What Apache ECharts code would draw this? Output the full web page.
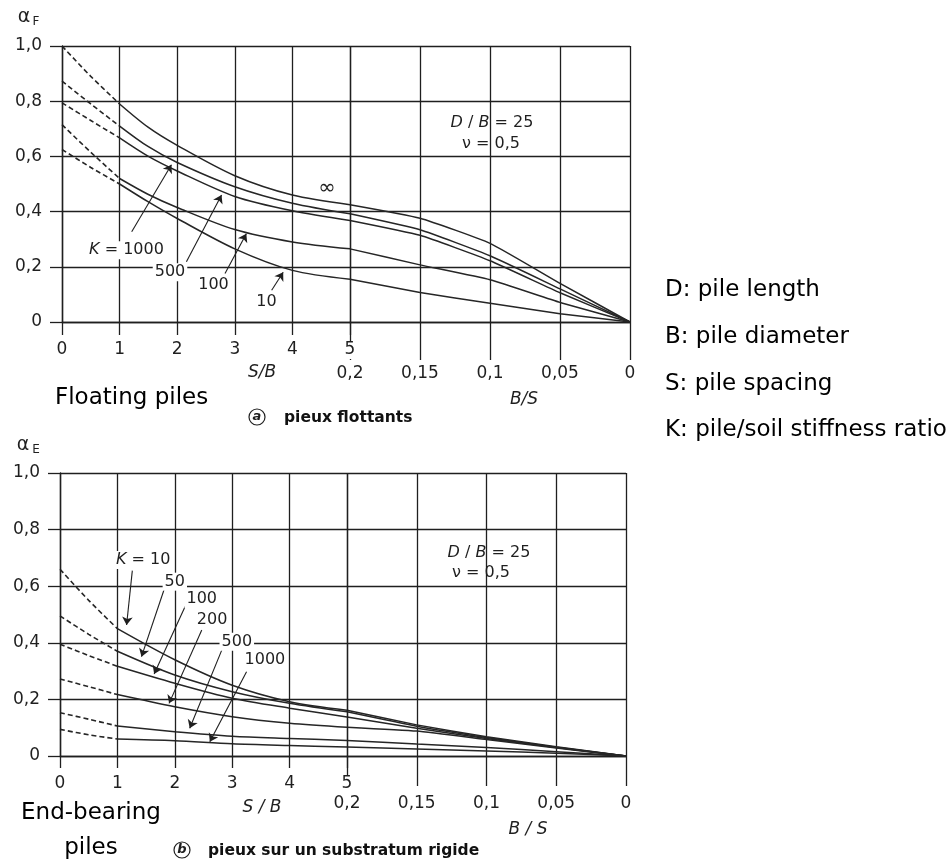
<!DOCTYPE html>
<html><head><meta charset="utf-8">
<script src="https://cdn.jsdelivr.net/npm/echarts@6/dist/echarts.min.js"></script>
<style>html,body{margin:0;padding:0;background:#fff}#c{width:949px;height:864px}</style>
</head><body><div id="c"></div>
<script>
// ---------- axes ----------
const yTickStep = 0.2;
const sbTickStep = 1;
const bsTickStep = 0.05;

// ---------- (a) floating piles : alpha_F ----------
const floatSB = [0, 0.5, 1, 1.5, 2, 3, 4, 5];          // S/B
const floatBS = [0.2, 0.15, 0.1, 0.05, 0];              // B/S
const floatInfSB  = [1.0, 0.89, 0.79, 0.705, 0.64, 0.53, 0.46, 0.425];
const floatInfBS  = [0.425, 0.376, 0.285, 0.14, 0];
const float1000SB = [0.873, 0.79, 0.71, 0.635, 0.578, 0.49, 0.43, 0.392];
const float1000BS = [0.392, 0.334, 0.24, 0.12, 0];
const float500SB  = [0.794, 0.73, 0.667, 0.6, 0.547, 0.455, 0.403, 0.368];
const float500BS  = [0.368, 0.314, 0.222, 0.106, 0];
const float100SB  = [0.715, 0.615, 0.52, 0.462, 0.415, 0.335, 0.29, 0.265];
const float100BS  = [0.265, 0.207, 0.153, 0.071, 0];
const float10SB   = [0.625, 0.56, 0.5, 0.435, 0.375, 0.265, 0.187, 0.155];
const float10BS   = [0.155, 0.107, 0.068, 0.03, 0];

// ---------- (b) end-bearing piles : alpha_E ----------
const endSB = [0, 0.5, 1, 2, 3, 4, 5];
const endBS = [0.2, 0.15, 0.1, 0.05, 0];
const end10SB   = [0.66, 0.55, 0.45, 0.34, 0.25, 0.192, 0.162];
const end10BS   = [0.162, 0.11, 0.068, 0.033, 0];
const end50SB   = [0.495, 0.43, 0.37, 0.286, 0.227, 0.186, 0.156];
const end50BS   = [0.156, 0.105, 0.065, 0.031, 0];
const end100SB  = [0.395, 0.355, 0.317, 0.257, 0.204, 0.169, 0.138];
const end100BS  = [0.138, 0.098, 0.062, 0.03, 0];
const end200SB  = [0.272, 0.245, 0.217, 0.174, 0.139, 0.116, 0.102];
const end200BS  = [0.102, 0.088, 0.058, 0.028, 0];
const end500SB  = [0.153, 0.13, 0.106, 0.086, 0.07, 0.062, 0.055];
const end500BS  = [0.055, 0.042, 0.03, 0.015, 0];
const end1000SB = [0.094, 0.075, 0.06, 0.054, 0.043, 0.037, 0.032];
const end1000BS = [0.032, 0.025, 0.018, 0.01, 0];

// ---------- annotations (S/B, value) ----------
const floatLabels = [['{i|K} = 1000', 1.12, 0.26], ['500', 1.875, 0.18], ['100', 2.63, 0.133], ['10', 3.55, 0.073], ['{inf|∞}', 4.6, 0.485]];
const floatArrows = [[1.21, 0.327, 1.9, 0.57], [2.16, 0.218, 2.77, 0.46], [2.83, 0.176, 3.2, 0.32], [3.64, 0.115, 3.84, 0.18]];
const endLabels = [['{i|K} = 10', 1.45, 0.693], ['50', 2.0, 0.616], ['100', 2.47, 0.554], ['200', 2.65, 0.48], ['500', 3.08, 0.404], ['1000', 3.57, 0.339]];
const endArrows = [[1.26, 0.655, 1.16, 0.463], [1.83, 0.598, 1.42, 0.351], [2.18, 0.528, 1.64, 0.29], [2.47, 0.445, 1.9, 0.186], [2.82, 0.375, 2.26, 0.098], [3.25, 0.298, 2.61, 0.05]];

// ---------- build ----------
const INK = '#1f1f1f';
const FONT = 'DejaVu Sans';
const curveColor = '#262626';

function fmtY(v) { return v === 0 ? '0' : v.toFixed(1).replace('.', ','); }
function fmtBS(v) { if (Math.abs(v) < 1e-9) return '0'; return String(Math.round(v * 100) / 100).replace('.', ','); }
function fmtSB(v) { return v === 5 ? '{w|5}' : String(v); }

const series = [];
function addCurve(gLeftX, gRightX, sbX, sbV, bsX, bsV) {
  const dash = [], solid = [], right = [];
  sbX.forEach((x, i) => { if (x <= 1) dash.push([x, sbV[i]]); if (x >= 1) solid.push([x, sbV[i]]); });
  bsX.forEach((x, i) => right.push([x, bsV[i]]));
  const base = { type: 'line', showSymbol: false, symbol: 'none', silent: true, smooth: 0.3, z: 3 };
  series.push(Object.assign({}, base, { xAxisIndex: gLeftX, yAxisIndex: gLeftX, data: dash, lineStyle: { color: curveColor, width: 1.6, type: [5, 3] } }));
  series.push(Object.assign({}, base, { xAxisIndex: gLeftX, yAxisIndex: gLeftX, data: solid, lineStyle: { color: curveColor, width: 1.5 } }));
  series.push(Object.assign({}, base, { xAxisIndex: gRightX, yAxisIndex: gRightX, data: right, smooth: 0.15, lineStyle: { color: curveColor, width: 1.5 } }));
}
addCurve(0, 1, floatSB, floatInfSB, floatBS, floatInfBS);
addCurve(0, 1, floatSB, float1000SB, floatBS, float1000BS);
addCurve(0, 1, floatSB, float500SB, floatBS, float500BS);
addCurve(0, 1, floatSB, float100SB, floatBS, float100BS);
addCurve(0, 1, floatSB, float10SB, floatBS, float10BS);
addCurve(2, 3, endSB, end10SB, endBS, end10BS);
addCurve(2, 3, endSB, end50SB, endBS, end50BS);
addCurve(2, 3, endSB, end100SB, endBS, end100BS);
addCurve(2, 3, endSB, end200SB, endBS, end200BS);
addCurve(2, 3, endSB, end500SB, endBS, end500BS);
addCurve(2, 3, endSB, end1000SB, endBS, end1000BS);

function addAnnot(axisIdx, labels, arrows) {
  series.push({
    type: 'line', xAxisIndex: axisIdx, yAxisIndex: axisIdx, data: [], silent: true, z: 5,
    markLine: {
      silent: true, animation: false, symbol: ['none', 'arrow'], symbolSize: 8,
      label: { show: false }, lineStyle: { color: INK, width: 1.1, type: 'solid' },
      emphasis: { disabled: true },
      data: arrows.map(a => [{ coord: [a[0], a[1]] }, { coord: [a[2], a[3]] }])
    },
    markPoint: {
      silent: true, animation: false, symbol: 'circle', symbolSize: 1,
      itemStyle: { color: 'rgba(0,0,0,0)' },
      label: {
        show: true, position: 'inside', color: INK, fontFamily: FONT, fontSize: 16,
        backgroundColor: '#fff', padding: [1, 2],
        rich: {
          i: { fontStyle: 'italic', fontFamily: FONT, fontSize: 16, color: INK },
          inf: { fontFamily: FONT, fontSize: 21, color: INK }
        }
      },
      data: labels.map(l => ({ coord: [l[1], l[2]], label: { formatter: l[0], backgroundColor: l[0].indexOf('inf') >= 0 ? 'rgba(0,0,0,0)' : '#fff' } }))
    }
  });
}
addAnnot(0, floatLabels, floatArrows);
addAnnot(2, endLabels, endArrows);

const gridLine = { show: true, lineStyle: { color: INK, width: 1.3 } };
const axisLine = { show: true, lineStyle: { color: INK, width: 1.4 } };
function sbAxis(grid, tickLen) {
  return { type: 'value', gridIndex: grid, min: 0, max: 5, interval: sbTickStep, z: 4,
    axisLine: axisLine, splitLine: gridLine,
    axisTick: { show: true, inside: false, length: tickLen, lineStyle: { color: INK, width: 1.3 } },
    axisLabel: { margin: 19, color: INK, fontFamily: FONT, fontSize: 17, formatter: fmtSB,
      rich: { w: { backgroundColor: '#fff', padding: [0, 4, 1, 4], fontFamily: FONT, fontSize: 17, color: INK } } } };
}
function bsAxis(grid, tickLen, margin) {
  return { type: 'value', gridIndex: grid, min: 0, max: 0.2, interval: bsTickStep, inverse: true, z: 1,
    axisLine: axisLine, splitLine: gridLine,
    axisTick: { show: true, inside: false, length: tickLen, lineStyle: { color: INK, width: 1.3 } },
    axisLabel: { margin: margin, color: INK, fontFamily: FONT, fontSize: 17, formatter: fmtBS } };
}
function yLeft(grid) {
  return { type: 'value', gridIndex: grid, min: 0, max: 1, interval: yTickStep,
    axisLine: axisLine, splitLine: gridLine,
    axisTick: { show: true, inside: false, length: 12, lineStyle: { color: INK, width: 1.3 } },
    axisLabel: { margin: 20, color: INK, fontFamily: FONT, fontSize: 17, formatter: fmtY } };
}
function yRight(grid) {
  return { type: 'value', gridIndex: grid, min: 0, max: 1, interval: yTickStep,
    axisLine: { show: false }, axisTick: { show: false }, axisLabel: { show: false }, splitLine: gridLine };
}

function T(x, y, text, font, align, fill) {
  return { type: 'text', x: x, y: y, silent: true, z: 10,
    style: { text: text, font: font, fill: fill || INK, align: align || 'center', verticalAlign: 'middle' } };
}
function RT(x, y, text, size) {
  return { type: 'text', x: x, y: y, silent: true, z: 10,
    style: { text: text, font: size + 'px ' + FONT, fill: INK, align: 'center', verticalAlign: 'middle',
      rich: { i: { fontStyle: 'italic', fontSize: size, fontFamily: FONT, fill: INK } } } };
}

const graphic = [
  // y axis names
  T(24, 17, 'α', '19px ' + FONT),
  T(36, 22, 'F', '12px ' + FONT),
  T(23, 445, 'α', '19px ' + FONT),
  T(36, 450, 'E', '12px ' + FONT),
  // parameter boxes
  RT(492, 123, '{i|D} / {i|B} = 25', 16),
  RT(491, 144, 'ν = 0,5', 16),
  RT(489, 553, '{i|D} / {i|B} = 25', 16),
  RT(481, 573, 'ν = 0,5', 16),
  // axis titles
  T(262, 373, 'S/B', 'italic 17px ' + FONT),
  T(524, 400, 'B/S', 'italic 17px ' + FONT),
  T(262, 808, 'S / B', 'italic 17px ' + FONT),
  T(528, 830, 'B / S', 'italic 17px ' + FONT),
  // captions
  T(55, 398, 'Floating piles', '23px ' + FONT, 'left', '#000'),
  { type: 'circle', shape: { cx: 257, cy: 417, r: 8 }, style: { fill: 'none', stroke: INK, lineWidth: 1.2 }, silent: true },
  T(257, 417, 'a', 'italic bold 13px ' + FONT),
  T(284, 418, 'pieux flottants', 'bold 15.5px ' + FONT, 'left', '#111'),
  T(91, 813, 'End-bearing', '23px ' + FONT, 'center', '#000'),
  T(91, 848, 'piles', '23px ' + FONT, 'center', '#000'),
  { type: 'circle', shape: { cx: 182, cy: 850, r: 8 }, style: { fill: 'none', stroke: INK, lineWidth: 1.2 }, silent: true },
  T(182, 850, 'b', 'italic bold 13px ' + FONT),
  T(208, 851, 'pieux sur un substratum rigide', 'bold 15.5px ' + FONT, 'left', '#111'),
  // legend of symbols
  T(665, 290, 'D: pile length', '23px ' + FONT, 'left', '#000'),
  T(665, 337, 'B: pile diameter', '23px ' + FONT, 'left', '#000'),
  T(665, 384, 'S: pile spacing', '23px ' + FONT, 'left', '#000'),
  T(665, 430, 'K: pile/soil stiffness ratio', '23px ' + FONT, 'left', '#000')
];

const chart = echarts.init(document.getElementById('c'), null, { renderer: 'canvas' });
chart.setOption({
  backgroundColor: '#fff',
  animation: false,
  grid: [
    { left: 62, top: 46, width: 288, height: 276 },
    { left: 350, top: 46, width: 280, height: 276 },
    { left: 60, top: 473, width: 287, height: 283 },
    { left: 347, top: 473, width: 279, height: 283 }
  ],
  xAxis: [sbAxis(0, 13), bsAxis(1, 38, 43), sbAxis(2, 12), bsAxis(3, 30, 39)],
  yAxis: [yLeft(0), yRight(1), yLeft(2), yRight(3)],
  series: series,
  graphic: graphic
});
</script>
</body></html>
